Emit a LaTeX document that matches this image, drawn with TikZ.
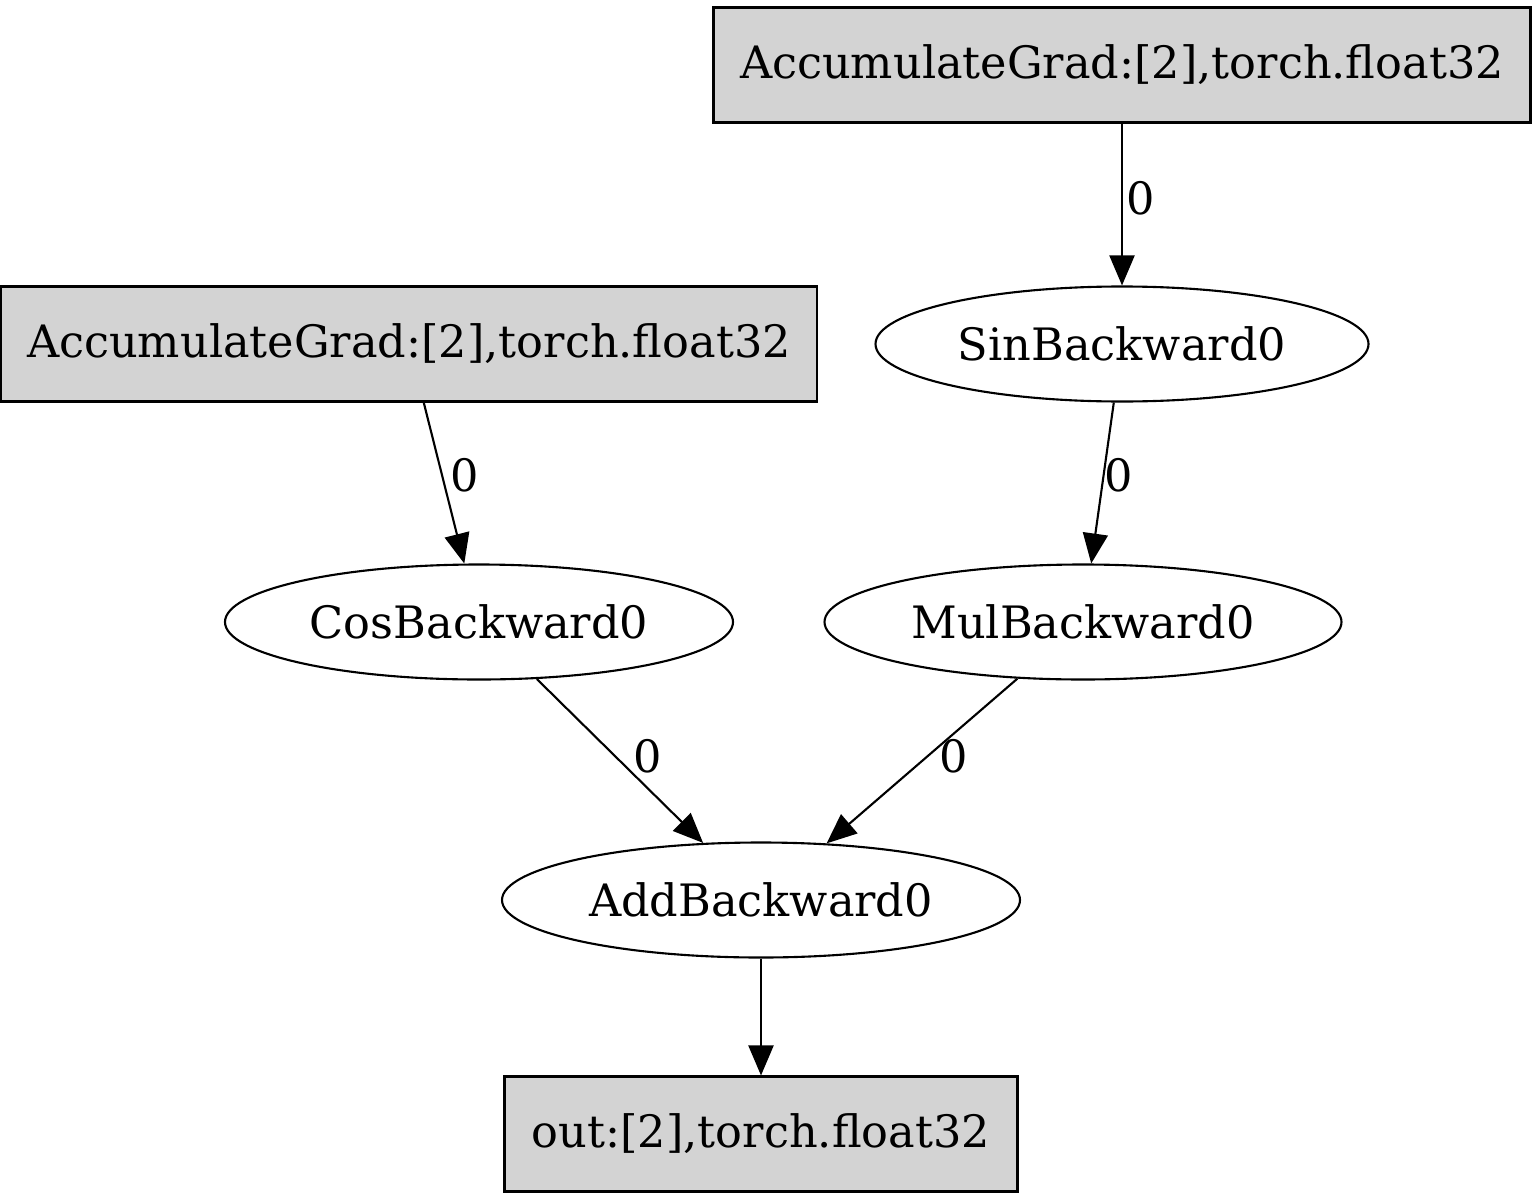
\documentclass[tikz,border=0pt]{standalone}
\usepackage{fontspec}
\setmainfont{DejaVu Serif}
\usetikzlibrary{arrows.meta,shapes.geometric}
\tikzset{
  gradbox/.style={draw, line width=0.6pt, fill={rgb,255:red,211;green,211;blue,211}, minimum height=1.15cm},
  fnnode/.style={draw, ellipse, line width=0.6pt, minimum height=1.15cm, inner sep=1pt},
  flow/.style={line width=0.6pt, -{Triangle[length=0.3cm,width=0.25cm]}},
  lbl/.style={inner sep=1pt}
}
\begin{document}
\begin{tikzpicture}[font=\fontsize{12.7}{15}\selectfont]
    \useasboundingbox (0,0) rectangle (15.36,11.94);
    % leaf tensors
    \node[gradbox, minimum width=8.17cm] (acct) at (11.22,11.29) {AccumulateGrad:[2],torch.float32};
    \node[gradbox, minimum width=8.16cm] (accl) at (4.09,8.50) {AccumulateGrad:[2],torch.float32};
    % backward functions
    \node[fnnode, minimum width=4.93cm] (sin) at (11.22,8.50) {SinBackward0};
    \node[fnnode, minimum width=5.08cm] (cos) at (4.79,5.72) {CosBackward0};
    \node[fnnode, minimum width=5.17cm] (mul) at (10.83,5.72) {MulBackward0};
    \node[fnnode, minimum width=5.18cm] (add) at (7.61,2.94) {AddBackward0};
    \node[gradbox, minimum width=5.13cm] (out) at (7.61,0.60) {out:[2],torch.float32};
    % edges
    \draw[flow] (acct) -- node[lbl, right, pos=.46] {0} (sin);
    \draw[flow] (accl) -- node[lbl, right=1pt, pos=.45] {0} (cos);
    \draw[flow] (sin) -- node[lbl, right=-1pt, pos=.45] {0} (mul);
    \draw[flow] (cos) -- node[lbl, right=4pt, pos=.47] {0} (add);
    \draw[flow] (mul) -- node[lbl, right=2pt, pos=.47] {0} (add);
    \draw[flow] (add) -- (out);
\end{tikzpicture}
\end{document}
